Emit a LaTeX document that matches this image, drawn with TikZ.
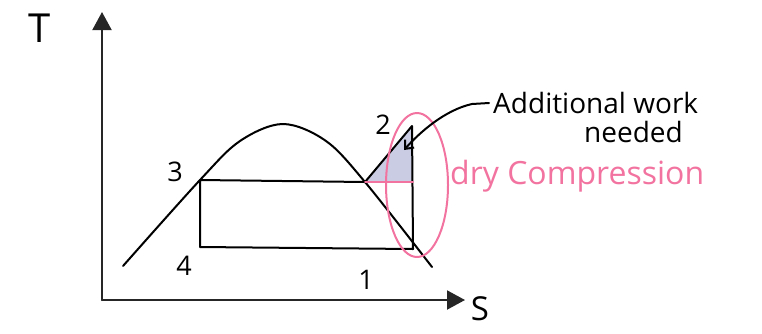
\documentclass[tikz,border=0pt]{standalone}
\usepackage{fontspec}
\setmainfont{Open Sans}
\usetikzlibrary{arrows.meta}
\definecolor{pinkink}{HTML}{F2739F}
\definecolor{lav}{HTML}{C9CCE2}
\begin{document}
\begin{tikzpicture}[x=1pt,y=-1pt,line cap=round,line join=round,
  ink/.style={line width=2pt,black},
  axisline/.style={line width=2pt,black!85,-{Triangle[length=18pt,width=19pt]}},
  pinkline/.style={line width=2pt,pinkink},
  num/.style={font=\fontsize{27}{29}\selectfont,inner sep=0pt},
  bigletter/.style={font=\fontsize{40}{42}\selectfont,inner sep=0pt},
  note/.style={font=\fontsize{28}{30}\selectfont,inner sep=0pt,anchor=base west}]
\useasboundingbox (0,0) rectangle (762,333);
% axes
\coordinate (O) at (102,300);
\coordinate (Ttip) at (102,12);
\coordinate (Stip) at (465,300);
\draw[axisline] (O) -- (Ttip);
\draw[axisline] (O) -- (Stip);
\node[bigletter] (T) at (40,28) {T};
\node[bigletter,font=\fontsize{33}{35}\selectfont,anchor=base] (S) at (480,320) {S};
% points
\coordinate (p3) at (200,180);
\coordinate (p4) at (200,247);
\coordinate (p1) at (413,249);
\coordinate (p2) at (412,126);
\coordinate (sat) at (365,182);
\coordinate (sat2) at (413,182);
% shaded triangle
\fill[lav] (sat) -- (p2) -- (sat2) -- cycle;
% dome
\draw[ink] plot[smooth,tension=0.55] coordinates {(123,266) (200,180) (240,141) (283,124) (326,141) (365,182) (432,267)};
% cycle
\draw[ink] (p3) -- (sat) -- (p2) -- (p1) -- (p4) -- (p3);
\draw[pinkline] (sat) -- (sat2);
% ellipse
\draw[pinkline] (417,185) ellipse [x radius=31,y radius=72];
% labels
\node[num] (l2) at (383,125) {2};
\node[num] (l3) at (175,172) {3};
\node[num] (l4) at (184,266) {4};
\node[num] (l1) at (366,280) {1};
% annotation
\node[note] (add) at (493,113) {Additional work};
\node[note] (need) at (584,142) {needed};
\node[note,pinkink,font=\fontsize{32}{34}\selectfont] (dry) at (450,184) {dry Compression};
\coordinate (astart) at (489,103);
\coordinate (atip) at (404,150);
\draw[ink,-{Straight Barb[length=7pt,width=12pt]}] (astart) -- (472,104) .. controls (445,110) and (420,132) .. (atip);
\end{tikzpicture}
\end{document}
